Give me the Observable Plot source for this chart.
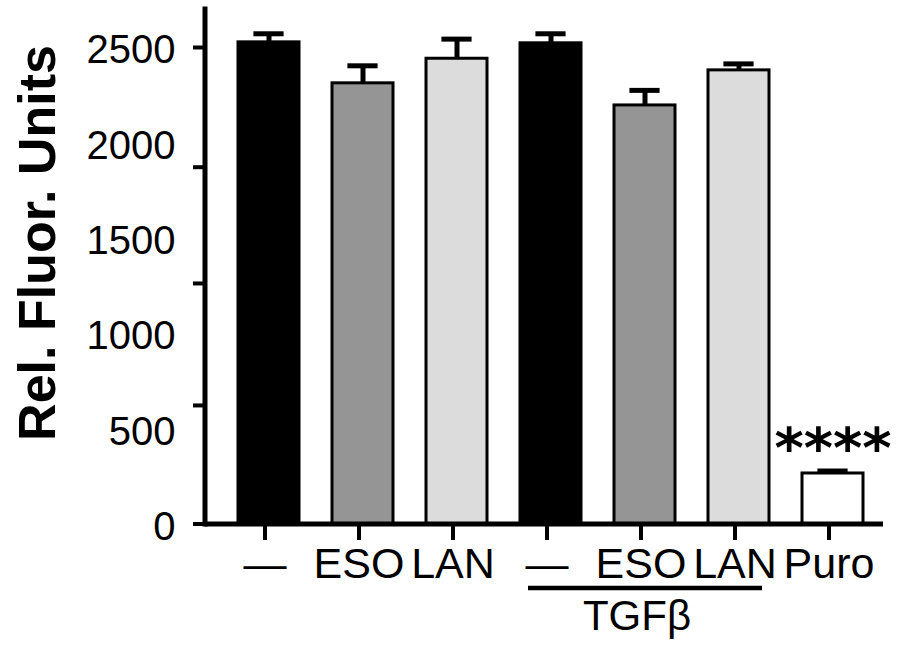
<!DOCTYPE html>
<html><head><meta charset="utf-8">
<script src="https://cdn.jsdelivr.net/npm/d3@7"></script>
<script src="https://cdn.jsdelivr.net/npm/@observablehq/plot@0.6"></script>
<style>html,body{margin:0;padding:0;background:#fff;}</style>
</head><body><div id="chart"></div>
<script>
// ---- data ----
const ids = ["ctrl", "eso", "lan", "tgfCtrl", "tgfEso", "tgfLan", "puro"];
const tickLabels = ["—", "ESO", "LAN", "—", "ESO", "LAN", "Puro"];
const values = [2527, 2312, 2441, 2522, 2196, 2380, 265];
const errors = [45, 92, 103, 50, 79, 34, 13];
const yTickValues = [0, 500, 1000, 1500, 2000, 2500];
const yTickMarks = [0, 622, 1262, 1872, 2500];
const groupLabel = "TGFβ";
const groupSpan = [{from: "tgfCtrl", to: "tgfLan", mid: "tgfEso"}];
const sigLabel = "****";
const sigCategory = "puro";
const yLabel = "Rel. Fluor. Units";
const fillColors = ["#000000", "#959595", "#dcdcdc", "#000000", "#959595", "#dcdcdc", "#ffffff"];

const data = ids.map((id, i) => ({id, value: values[i], err: errors[i], top: values[i] + errors[i]}));

const plot = Plot.plot({
  width: 907, height: 646,
  marginTop: 8.5, marginBottom: 122.5, marginLeft: 204.5, marginRight: 24,
  style: {fontFamily: "'Liberation Sans', Arial, Helvetica, sans-serif", background: "#fff", color: "#000"},
  x: {type: "band", domain: ids, range: [218.5, 883], paddingInner: 0.35, paddingOuter: 0.175},
  y: {domain: [0, 2702]},
  color: {type: "ordinal", domain: ids, range: fillColors},
  marks: [
    Plot.barY(data, {x: "id", y: "value", fill: "id", stroke: "#000", strokeWidth: 3}),
    Plot.ruleX(data, {x: "id", y1: "value", y2: "top", strokeWidth: 5, stroke: "#000"}),
    Plot.tickY(data, {x: "id", y: "top", strokeWidth: 5, stroke: "#000", insetLeft: 15.4, insetRight: 15.4}),
    Plot.frame({anchor: "left", strokeWidth: 5, stroke: "#000", strokeLinecap: "square"}),
    Plot.ruleY([0], {strokeWidth: 5, stroke: "#000"}),
    Plot.axisY({ticks: yTickMarks, tickSize: 11.5, tickFormat: () => "", strokeWidth: 4, label: null}),
    Plot.axisY({ticks: yTickValues, tickSize: 0, tickPadding: 29.5, fontSize: 40, dy: 3, tickFormat: (d) => String(d), label: null}),
    Plot.axisX({tickSize: 16.5, strokeWidth: 4, tickPadding: 7, fontSize: 43, dx: -4,
      tickFormat: (d) => tickLabels[ids.indexOf(d)], label: null}),
    Plot.ruleY(groupSpan, {x1: "from", x2: "to", y: () => 0, dy: 64, strokeWidth: 4.5, stroke: "#000", insetLeft: 8, insetRight: 7}),
    Plot.text(groupSpan, {x: "mid", text: () => groupLabel, frameAnchor: "bottom", lineAnchor: "top", dy: 76.5, dx: -8, fontSize: 42}),
    Plot.text(data.filter(d => d.id === sigCategory), {x: "id", y: "top", text: () => sigLabel, dy: -22, fontSize: 56, fontWeight: "bold", fontFamily: "'DejaVu Sans', sans-serif"}),
    Plot.text([yLabel], {text: d => d, frameAnchor: "left", textAnchor: "middle", rotate: -90, dx: -167, dy: -23.5, fontSize: 52, fontWeight: "bold"})
  ]
});
document.getElementById("chart").appendChild(plot);
</script>
</body></html>
